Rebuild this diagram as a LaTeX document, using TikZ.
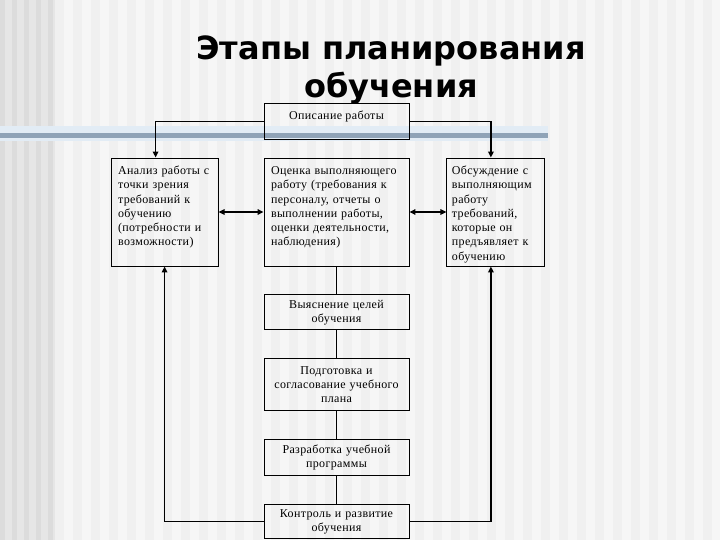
\documentclass[tikz,border=0pt]{standalone}
\usepackage{fontspec}
\setmainfont[LetterSpace=3]{Liberation Serif}
\newfontfamily\titlefont{DejaVu Sans}
\usepackage{xcolor}
\usepackage{tikz}
\usetikzlibrary{arrows.meta, positioning}
\definecolor{bgbase}{HTML}{F0F0F0}
\definecolor{bgstripe}{HTML}{F6F6F6}
\definecolor{sidedark}{HTML}{DCDCDC}
\definecolor{sidelight}{HTML}{E6E6E6}
\definecolor{bandglow}{HTML}{E2ECF5}
\definecolor{band}{HTML}{8FA3B7}
\tikzstyle{arrow} = [line width=1.5pt, -{Triangle[length=6pt, width=5.5pt]}]
\tikzstyle{biarrow} = [line width=1.5pt, {Triangle[length=6pt, width=5.5pt]}-{Triangle[length=6pt, width=5.5pt]}]
\tikzstyle{link} = [line width=1.1pt]
\tikzstyle{topbox} = [draw, minimum height=108pt, align=left, text height=8.5pt, text depth=83.5pt, inner ysep=8pt]
\tikzstyle{stepbox} = [draw, minimum width=145pt, text width=137pt, inner xsep=4pt, align=center]

\begin{document}
\begin{tikzpicture}[x=1pt, y=-1pt, node distance=28pt and 45pt, every node/.style={font=\fontsize{12}{14.3}\selectfont, line width=0.9pt}]
\useasboundingbox (0,0) rectangle (720,540);
% Background
\fill[bgbase] (0,0) rectangle (720,540);
\foreach \x in {55,73,...,720} \fill[bgstripe] (\x+9,0) rectangle (\x+18,540);
\fill[sidelight] (0,0) rectangle (55,540);
\foreach \x in {0,12,...,48} \fill[sidedark] (\x,0) rectangle (\x+5,540);
\fill[bandglow] (0,126) rectangle (548,141);
\fill[band] (0,133) rectangle (548,138.5);

% Title
\node (titleA) [anchor=base, font=\titlefont\bfseries\fontsize{32}{38}\selectfont] at (391,60) {Этапы планирования};
\node (titleB) [anchor=base, font=\titlefont\bfseries\fontsize{32}{38}\selectfont] at (391,98) {обучения};

% Top row
\node (ocenka) [topbox, minimum width=145pt, text width=131pt, inner xsep=7pt] at (336.5,212) {
    Оценка выполняющего\\ работу (требования к\\ персоналу, отчеты о\\ выполнении работы,\\ оценки деятельности,\\ наблюдения)
};
\node (analiz) [topbox, minimum width=107pt, text width=93pt, inner xsep=7pt, left=45pt of ocenka] {
    Анализ работы с\\ точки зрения\\ требований к\\ обучению\\ (потребности и\\ возможности)
};
\node (obsuzh) [topbox, minimum width=98pt, text width=88pt, inner xsep=5pt, right=37pt of ocenka] {
    Обсуждение с\\ выполняющим\\ работу\\ требований,\\ которые он\\ предъявляет к\\ обучению
};
\node (opis) [draw, minimum width=145pt, minimum height=35pt, text depth=13pt, inner ysep=6.8pt, above=18pt of ocenka] {Описание работы};

% Steps
\node (vyyasn) [stepbox, minimum height=35pt, below=of ocenka] {Выяснение целей\\ обучения};
\node (podgot) [stepbox, minimum height=52pt, below=of vyyasn] {Подготовка и\\ согласование учебного\\ плана};
\node (razrab) [stepbox, minimum height=36pt, below=of podgot] {Разработка учебной\\ программы};
\node (kontrol) [stepbox, minimum height=34pt, below=of razrab] {Контроль и развитие\\ обучения};

% Connectors
\draw [arrow] (opis.west) -| ([xshift=-9pt]analiz.north);
\draw [arrow] (opis.east) -| ([xshift=-5pt]obsuzh.north);
\draw [biarrow] (analiz) -- (ocenka);
\draw [biarrow] (ocenka) -- (obsuzh);
\draw [link] (ocenka) -- (vyyasn);
\draw [link] (vyyasn) -- (podgot);
\draw [link] (podgot) -- (razrab);
\draw [link] (razrab) -- (kontrol);
\draw [arrow] (kontrol.west) -| (analiz.south);
\draw [arrow] (kontrol.east) -| ([xshift=-5pt]obsuzh.south);
\end{tikzpicture}
\end{document}
